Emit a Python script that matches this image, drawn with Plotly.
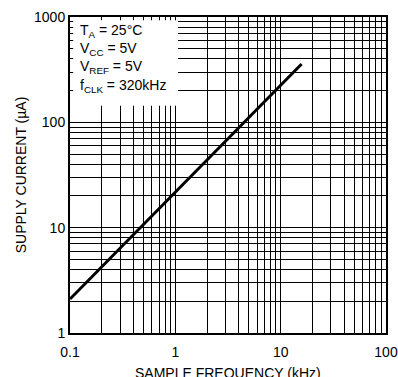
import plotly.graph_objects as go

# Supply current vs. sample frequency
freq_khz = [0.1, 1, 10, 15.8]
supply_ua = [2.1, 21.7, 224, 358]

x_ticks = [0.1, 1, 10, 100]
x_labels = ["0.1", "1", "10", "100"]
y_ticks = [1, 10, 100, 1000]
y_labels = ["1", "10", "100", "1000"]

conditions = [
    "T<sub>A</sub> = 25°C",
    "V<sub>CC</sub> = 5V",
    "V<sub>REF</sub> = 5V",
    "f<sub>CLK</sub> = 320kHz",
]

FONT = "Liberation Sans, Arial, sans-serif"

fig = go.Figure()
fig.add_trace(go.Scatter(
    x=freq_khz, y=supply_ua, mode="lines",
    line=dict(color="black", width=3),
    showlegend=False,
))

axis_common = dict(
    type="log", automargin=False,
    showgrid=True, gridcolor="black", gridwidth=1,
    minor=dict(dtick="D1", showgrid=True, gridcolor="black", gridwidth=1, ticks=""),
    showline=True, linecolor="black", linewidth=2, mirror=True,
    ticks="", zeroline=False,
    tickfont=dict(family=FONT, size=14, color="black"),
)

fig.update_xaxes(
    range=[-1, 2], tickvals=x_ticks, ticktext=x_labels, ticklabelstandoff=5,
    **axis_common,
)
fig.update_yaxes(
    range=[0, 3], tickvals=y_ticks, ticktext=y_labels,
    title=dict(text="SUPPLY CURRENT (µA)", font=dict(family=FONT, size=14, color="black"), standoff=4),
    **axis_common,
)

# X-axis title sits low, partly below the page edge
fig.add_annotation(
    xref="x domain", yref="y domain", x=0.5, y=-0.128,
    xanchor="center", yanchor="middle", showarrow=False,
    text="SAMPLE FREQUENCY (kHz)",
    font=dict(family=FONT, size=14, color="black"),
)

# White panel behind the operating conditions
fig.add_shape(
    type="rect", xref="x domain", yref="y domain",
    x0=0.01, x1=0.342, y0=0.719, y1=0.99,
    fillcolor="white", line=dict(width=0), layer="above",
)
fig.add_annotation(
    xref="x domain", yref="y domain", x=0.025, y=0.99,
    xanchor="left", yanchor="top", align="left", showarrow=False,
    text="<br>".join(conditions),
    font=dict(family=FONT, size=14, color="black"),
)

fig.update_layout(
    width=398, height=377,
    margin=dict(l=70, r=12, t=17, b=44),
    paper_bgcolor="white", plot_bgcolor="white",
)

fig.write_html("out.html")
